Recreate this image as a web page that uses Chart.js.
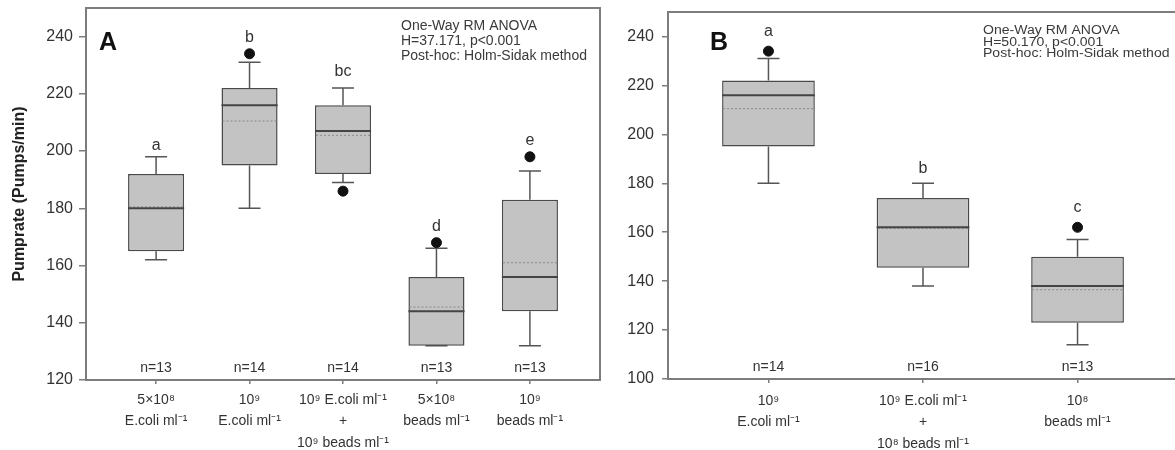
<!DOCTYPE html>
<html>
<head>
<meta charset="utf-8">
<script src="https://cdn.jsdelivr.net/npm/chart.js@4.4.0/dist/chart.umd.min.js"></script>
<style>
  html, body { margin: 0; padding: 0; background: #fff; overflow: hidden; width: 1175px; height: 450px; }
  #pa { position: absolute; left: 0; top: 0; }
  #pb { position: absolute; left: 606px; top: 0; }
</style>
</head>
<body>
<canvas id="pa" width="606" height="450"></canvas>
<canvas id="pb" width="580" height="450"></canvas>
<script>
// ---- panel A : pump rate vs food type ----
var labelsA = [
  ['5×10⁸', 'E.coli ml⁻¹'],
  ['10⁹', 'E.coli ml⁻¹'],
  ['10⁹ E.coli ml⁻¹', '+', '10⁹ beads ml⁻¹'],
  ['5×10⁸', 'beads ml⁻¹'],
  ['10⁹', 'beads ml⁻¹']
];
var lowA   = [162, 180, 189, 132, 132];
var q1A    = [165, 195, 192, 132, 144];
var medA   = [180, 216, 207, 144, 156];
var meanA  = [180.5, 210.5, 205.5, 145.5, 161];
var q3A    = [192, 222, 216, 156, 183];
var highA  = [198, 231, 222, 166, 193];
var outA   = [[], [234], [186], [168], [198]];
var letA   = ['a', 'b', 'bc', 'd', 'e'];
var nA     = [13, 14, 14, 13, 13];
var yTicksA = [120, 140, 160, 180, 200, 220, 240];
var noteA  = ['One-Way RM ANOVA', 'H=37.171, p<0.001', 'Post-hoc: Holm-Sidak method'];

// ---- panel B ----
var labelsB = [
  ['10⁹', 'E.coli ml⁻¹'],
  ['10⁹ E.coli ml⁻¹', '+', '10⁸ beads ml⁻¹'],
  ['10⁸', 'beads ml⁻¹']
];
var lowB   = [180, 138, 114];
var q1B    = [195, 145.5, 123];
var medB   = [216, 162, 138];
var meanB  = [210.5, 161.5, 136.5];
var q3B    = [222, 174, 150];
var highB  = [231, 180, 157];
var outB   = [[234], [], [162]];
var letB   = ['a', 'b', 'c'];
var nB     = [14, 16, 13];
var yTicksB = [100, 120, 140, 160, 180, 200, 220, 240];
var noteB  = ['One-Way RM ANOVA', 'H=50.170, p<0.001', 'Post-hoc: Holm-Sidak method'];

Chart.defaults.font.family = "'Liberation Sans', Arial, sans-serif";
Chart.defaults.color = '#333';

var FRAME = '#7d7d7d';

// whiskers, medians, means, letters and n= labels, all placed through the scales
function boxBits(s) {
  return {
    id: 'boxBits',
    beforeDatasetsDraw: function(chart) {
      var ctx = chart.ctx, x = chart.scales.x, y = chart.scales.y;
      ctx.save();
      ctx.strokeStyle = '#555';
      ctx.lineWidth = 1.5;
      for (var i = 0; i < s.low.length; i++) {
        var px = x.getPixelForValue(i + 1);
        var yl = y.getPixelForValue(s.low[i]), yh = y.getPixelForValue(s.high[i]);
        ctx.beginPath();
        ctx.moveTo(px, yl); ctx.lineTo(px, y.getPixelForValue(s.q1[i]));
        ctx.moveTo(px, y.getPixelForValue(s.q3[i])); ctx.lineTo(px, yh);
        ctx.moveTo(px - 11, yl); ctx.lineTo(px + 11, yl);
        ctx.moveTo(px - 11, yh); ctx.lineTo(px + 11, yh);
        ctx.stroke();
      }
      ctx.restore();
    },
    afterDatasetsDraw: function(chart) {
      var ctx = chart.ctx, x = chart.scales.x, y = chart.scales.y;
      var bar = chart.getDatasetMeta(0).data;
      ctx.save();
      for (var i = 0; i < s.med.length; i++) {
        var half = bar[i].width / 2, px = x.getPixelForValue(i + 1);
        // mean, dotted
        ctx.setLineDash([2, 2]);
        ctx.strokeStyle = '#8a8a8a';
        ctx.lineWidth = 1;
        ctx.beginPath();
        ctx.moveTo(px - half + 1, y.getPixelForValue(s.mean[i]));
        ctx.lineTo(px + half - 1, y.getPixelForValue(s.mean[i]));
        ctx.stroke();
        // median
        ctx.setLineDash([]);
        ctx.strokeStyle = '#444';
        ctx.lineWidth = 2;
        ctx.beginPath();
        ctx.moveTo(px - half, y.getPixelForValue(s.med[i]));
        ctx.lineTo(px + half, y.getPixelForValue(s.med[i]));
        ctx.stroke();
      }
      ctx.restore();
    },
    afterDraw: function(chart) {
      var ctx = chart.ctx, x = chart.scales.x, y = chart.scales.y, a = chart.chartArea;
      ctx.save();
      ctx.strokeStyle = FRAME;
      ctx.lineWidth = 2;
      ctx.strokeRect(a.left, a.top, a.right - a.left, a.bottom - a.top);

      ctx.fillStyle = '#333';
      ctx.textAlign = 'center';
      ctx.textBaseline = 'alphabetic';
      for (var i = 0; i < s.let.length; i++) {
        var px = x.getPixelForValue(i + 1);
        var top = y.getPixelForValue(Math.max.apply(null, [s.high[i]].concat(s.out[i])));
        if (s.out[i].length) top -= 5;
        ctx.font = "16px 'Liberation Sans', Arial, sans-serif";
        ctx.fillText(s.let[i], px, top - s.letGap);
        ctx.font = "14px 'Liberation Sans', Arial, sans-serif";
        ctx.fillText('n=' + s.n[i], px, a.bottom - 8);
      }

      // test summary (panel B is drawn a bit wider, like the source figure)
      ctx.textAlign = 'left';
      ctx.fillStyle = '#3a3a3a';
      ctx.font = s.noteFont;
      for (var j = 0; j < s.note.length; j++) {
        ctx.save();
        ctx.translate(a.left + 315, a.top + s.noteTop + j * s.noteLine);
        ctx.scale(s.noteStretch, 1);
        ctx.fillText(s.note[j], 0, 0);
        ctx.restore();
      }
      // panel letter
      ctx.fillStyle = '#111';
      ctx.font = "bold 25px 'Liberation Sans', Arial, sans-serif";
      ctx.fillText(s.panel, a.left + s.panelX, a.top + s.panelY);
      ctx.restore();
    }
  };
}

function outlierPts(out) {
  var pts = [];
  out.forEach(function(list, i) {
    list.forEach(function(v) { pts.push({x: i + 1, y: v}); });
  });
  return pts;
}

function drawPanel(id, s) {
  var boxes = s.q1.map(function(q, i) { return {x: i + 1, y: [q, s.q3[i]]}; });
  return new Chart(document.getElementById(id), {
    type: 'bar',
    data: {
      datasets: [
        {
          data: boxes,
          backgroundColor: '#c3c3c3',
          borderColor: '#4a4a4a',
          borderWidth: 1.5,
          borderSkipped: false,
          categoryPercentage: 1,
          barPercentage: 0.6
        },
        {
          type: 'scatter',
          data: outlierPts(s.out),
          pointRadius: 5,
          backgroundColor: '#111',
          borderColor: '#111'
        }
      ]
    },
    options: {
      responsive: false,
      animation: false,
      events: [],
      layout: { padding: s.pad },
      plugins: { legend: { display: false }, tooltip: { enabled: false } },
      scales: {
        x: {
          type: 'linear',
          offset: false,
          min: s.xMin,
          max: s.xMax,
          afterBuildTicks: function(sc) { sc.ticks = s.labels.map(function(l, i) { return {value: i + 1}; }); },
          afterFit: function(sc) { sc.height = s.xH; sc.paddingLeft = 0; sc.paddingRight = 0; },
          border: { display: false },
          grid: { offset: false, drawOnChartArea: false, drawTicks: true, tickLength: 4, color: FRAME, lineWidth: 1.5 },
          ticks: {
            autoSkip: false,
            maxRotation: 0,
            padding: s.xPad,
            font: { size: 14, lineHeight: 1.55 },
            color: '#333',
            callback: function(v) { return s.labels[v - 1]; }
          }
        },
        y: {
          min: s.yMin,
          max: 250,
          afterBuildTicks: function(sc) { sc.ticks = s.yTicks.map(function(v) { return {value: v}; }); },
          afterFit: function(sc) { sc.width = s.yW; sc.paddingTop = 0; sc.paddingBottom = 0; },
          border: { display: false },
          grid: { drawOnChartArea: false, drawTicks: true, tickLength: s.yTick, color: FRAME, lineWidth: 1.5 },
          ticks: { padding: s.yPad, font: { size: 16 }, color: '#333' },
          title: {
            display: !!s.yTitle,
            text: s.yTitle,
            font: { size: 16, weight: 'bold' },
            color: '#222',
            padding: { top: 10 }
          }
        }
      }
    },
    plugins: [boxBits(s)]
  });
}

drawPanel('pa', {
  labels: labelsA, low: lowA, q1: q1A, med: medA, mean: meanA, q3: q3A, high: highA,
  out: outA, let: letA, n: nA, yTicks: yTicksA, note: noteA,
  yMin: 120, xMin: 0.25, xMax: 5.75,
  pad: { left: 0, right: 4, top: 8, bottom: 0 }, yW: 86, xH: 70, yTick: 7, yPad: 6, xPad: 5,
  yTitle: 'Pumprate (Pumps/min)', letGap: 7,
  noteFont: "14px 'Liberation Sans', Arial, sans-serif", noteTop: 22, noteLine: 15, noteStretch: 1,
  panel: 'A', panelX: 13, panelY: 42
});

drawPanel('pb', {
  labels: labelsB, low: lowB, q1: q1B, med: medB, mean: meanB, q3: q3B, high: highB,
  out: outB, let: letB, n: nB, yTicks: yTicksB, note: noteB,
  yMin: 100, xMin: 0.35, xMax: 3.65,
  pad: { left: 0, right: 8, top: 12, bottom: 0 }, yW: 62, xH: 71, yTick: 6, yPad: 8, xPad: 7,
  yTitle: '', letGap: 10,
  noteFont: "12px 'Liberation Sans', Arial, sans-serif", noteTop: 22, noteLine: 11.5, noteStretch: 1.17,
  panel: 'B', panelX: 42, panelY: 38
});
</script>
</body>
</html>
